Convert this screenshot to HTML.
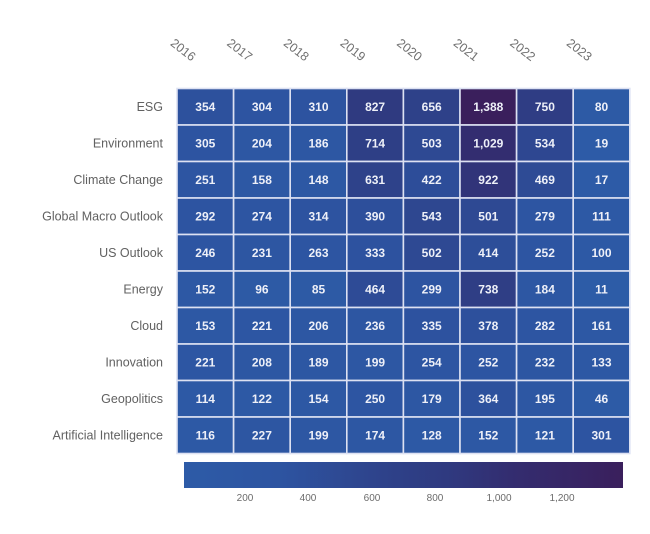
<!DOCTYPE html>
<html>
<head>
<meta charset="utf-8">
<style>
  html, body { margin:0; padding:0; background:#ffffff; }
  body { width:650px; height:534px; overflow:hidden; }
  svg { display:block; }
  .yr { font-family:"Liberation Sans", sans-serif; font-size:12.5px; fill:#707070; }
  .rl { font-family:"Liberation Sans", sans-serif; font-size:12.5px; fill:#616161; }
  .v  { font-family:"Liberation Sans", sans-serif; font-size:12px; font-weight:bold; fill:#eef0f8; }
  .cb { font-family:"Liberation Sans", sans-serif; font-size:10px; fill:#6b6b6b; }
</style>
</head>
<body>
<svg width="650" height="534" viewBox="0 0 650 534" xmlns="http://www.w3.org/2000/svg">
  <defs>
    <linearGradient id="g" x1="0" y1="0" x2="1" y2="0">
      <stop offset="0" stop-color="#2d5ba7"/>
      <stop offset="0.216" stop-color="#2d54a1"/>
      <stop offset="0.468" stop-color="#2e4189"/>
      <stop offset="0.598" stop-color="#2f3a80"/>
      <stop offset="0.742" stop-color="#332d70"/>
      <stop offset="1" stop-color="#3a1f5c"/>
    </linearGradient>
  </defs>

  <!-- Year labels -->
  <g class="yr" text-anchor="middle">
    <text x="183" y="54" transform="rotate(38 183 50)">2016</text>
    <text x="239.6" y="54" transform="rotate(38 239.6 50)">2017</text>
    <text x="296.2" y="54" transform="rotate(38 296.2 50)">2018</text>
    <text x="352.8" y="54" transform="rotate(38 352.8 50)">2019</text>
    <text x="409.4" y="54" transform="rotate(38 409.4 50)">2020</text>
    <text x="466" y="54" transform="rotate(38 466 50)">2021</text>
    <text x="522.6" y="54" transform="rotate(38 522.6 50)">2022</text>
    <text x="579.2" y="54" transform="rotate(38 579.2 50)">2023</text>
  </g>

  <!-- Row labels -->
  <g class="rl" text-anchor="end">
    <text x="163" y="111">ESG</text>
    <text x="163" y="147.5">Environment</text>
    <text x="163" y="184">Climate Change</text>
    <text x="163" y="220.5">Global Macro Outlook</text>
    <text x="163" y="257">US Outlook</text>
    <text x="163" y="293.5">Energy</text>
    <text x="163" y="330">Cloud</text>
    <text x="163" y="366.5">Innovation</text>
    <text x="163" y="403">Geopolitics</text>
    <text x="163" y="439.5">Artificial Intelligence</text>
  </g>

  <!-- Cells -->
  <g stroke="#dde1f2" stroke-width="1.6">
    <rect x="177" y="88.5" width="56.6" height="36.5" fill="#2d519d"/>
    <rect x="233.6" y="88.5" width="56.6" height="36.5" fill="#2d54a1"/>
    <rect x="290.2" y="88.5" width="56.6" height="36.5" fill="#2d53a0"/>
    <rect x="346.8" y="88.5" width="56.6" height="36.5" fill="#2f3a80"/>
    <rect x="403.4" y="88.5" width="56.6" height="36.5" fill="#2e4189"/>
    <rect x="460" y="88.5" width="56.6" height="36.5" fill="#3a1f5c"/>
    <rect x="516.6" y="88.5" width="56.6" height="36.5" fill="#2f3d84"/>
    <rect x="573.2" y="88.5" width="56.6" height="36.5" fill="#2d5aa5"/>

    <rect x="177" y="125" width="56.6" height="36.5" fill="#2d54a1"/>
    <rect x="233.6" y="125" width="56.6" height="36.5" fill="#2d57a3"/>
    <rect x="290.2" y="125" width="56.6" height="36.5" fill="#2d57a3"/>
    <rect x="346.8" y="125" width="56.6" height="36.5" fill="#2e3f86"/>
    <rect x="403.4" y="125" width="56.6" height="36.5" fill="#2e4993"/>
    <rect x="460" y="125" width="56.6" height="36.5" fill="#332d70"/>
    <rect x="516.6" y="125" width="56.6" height="36.5" fill="#2e4791"/>
    <rect x="573.2" y="125" width="56.6" height="36.5" fill="#2d5ba7"/>

    <rect x="177" y="161.5" width="56.6" height="36.5" fill="#2d55a2"/>
    <rect x="233.6" y="161.5" width="56.6" height="36.5" fill="#2d58a4"/>
    <rect x="290.2" y="161.5" width="56.6" height="36.5" fill="#2d58a4"/>
    <rect x="346.8" y="161.5" width="56.6" height="36.5" fill="#2e428a"/>
    <rect x="403.4" y="161.5" width="56.6" height="36.5" fill="#2d4d99"/>
    <rect x="460" y="161.5" width="56.6" height="36.5" fill="#313479"/>
    <rect x="516.6" y="161.5" width="56.6" height="36.5" fill="#2e4b95"/>
    <rect x="573.2" y="161.5" width="56.6" height="36.5" fill="#2d5ba7"/>

    <rect x="177" y="198" width="56.6" height="36.5" fill="#2d54a1"/>
    <rect x="233.6" y="198" width="56.6" height="36.5" fill="#2d55a2"/>
    <rect x="290.2" y="198" width="56.6" height="36.5" fill="#2d53a0"/>
    <rect x="346.8" y="198" width="56.6" height="36.5" fill="#2d4f9b"/>
    <rect x="403.4" y="198" width="56.6" height="36.5" fill="#2e4790"/>
    <rect x="460" y="198" width="56.6" height="36.5" fill="#2e4993"/>
    <rect x="516.6" y="198" width="56.6" height="36.5" fill="#2d55a2"/>
    <rect x="573.2" y="198" width="56.6" height="36.5" fill="#2d59a5"/>

    <rect x="177" y="234.5" width="56.6" height="36.5" fill="#2d55a2"/>
    <rect x="233.6" y="234.5" width="56.6" height="36.5" fill="#2d56a2"/>
    <rect x="290.2" y="234.5" width="56.6" height="36.5" fill="#2d55a2"/>
    <rect x="346.8" y="234.5" width="56.6" height="36.5" fill="#2d529f"/>
    <rect x="403.4" y="234.5" width="56.6" height="36.5" fill="#2e4993"/>
    <rect x="460" y="234.5" width="56.6" height="36.5" fill="#2d4e99"/>
    <rect x="516.6" y="234.5" width="56.6" height="36.5" fill="#2d55a2"/>
    <rect x="573.2" y="234.5" width="56.6" height="36.5" fill="#2d59a5"/>

    <rect x="177" y="271" width="56.6" height="36.5" fill="#2d58a4"/>
    <rect x="233.6" y="271" width="56.6" height="36.5" fill="#2d5aa5"/>
    <rect x="290.2" y="271" width="56.6" height="36.5" fill="#2d5aa5"/>
    <rect x="346.8" y="271" width="56.6" height="36.5" fill="#2e4b96"/>
    <rect x="403.4" y="271" width="56.6" height="36.5" fill="#2d54a1"/>
    <rect x="460" y="271" width="56.6" height="36.5" fill="#2f3e85"/>
    <rect x="516.6" y="271" width="56.6" height="36.5" fill="#2d57a3"/>
    <rect x="573.2" y="271" width="56.6" height="36.5" fill="#2d5ca7"/>

    <rect x="177" y="307.5" width="56.6" height="36.5" fill="#2d58a4"/>
    <rect x="233.6" y="307.5" width="56.6" height="36.5" fill="#2d56a3"/>
    <rect x="290.2" y="307.5" width="56.6" height="36.5" fill="#2d57a3"/>
    <rect x="346.8" y="307.5" width="56.6" height="36.5" fill="#2d56a2"/>
    <rect x="403.4" y="307.5" width="56.6" height="36.5" fill="#2d529f"/>
    <rect x="460" y="307.5" width="56.6" height="36.5" fill="#2d509c"/>
    <rect x="516.6" y="307.5" width="56.6" height="36.5" fill="#2d55a2"/>
    <rect x="573.2" y="307.5" width="56.6" height="36.5" fill="#2d58a4"/>

    <rect x="177" y="344" width="56.6" height="36.5" fill="#2d56a3"/>
    <rect x="233.6" y="344" width="56.6" height="36.5" fill="#2d57a3"/>
    <rect x="290.2" y="344" width="56.6" height="36.5" fill="#2d57a3"/>
    <rect x="346.8" y="344" width="56.6" height="36.5" fill="#2d57a3"/>
    <rect x="403.4" y="344" width="56.6" height="36.5" fill="#2d55a2"/>
    <rect x="460" y="344" width="56.6" height="36.5" fill="#2d55a2"/>
    <rect x="516.6" y="344" width="56.6" height="36.5" fill="#2d56a2"/>
    <rect x="573.2" y="344" width="56.6" height="36.5" fill="#2d58a4"/>

    <rect x="177" y="380.5" width="56.6" height="36.5" fill="#2d59a5"/>
    <rect x="233.6" y="380.5" width="56.6" height="36.5" fill="#2d59a5"/>
    <rect x="290.2" y="380.5" width="56.6" height="36.5" fill="#2d58a4"/>
    <rect x="346.8" y="380.5" width="56.6" height="36.5" fill="#2d55a2"/>
    <rect x="403.4" y="380.5" width="56.6" height="36.5" fill="#2d57a3"/>
    <rect x="460" y="380.5" width="56.6" height="36.5" fill="#2d519d"/>
    <rect x="516.6" y="380.5" width="56.6" height="36.5" fill="#2d57a3"/>
    <rect x="573.2" y="380.5" width="56.6" height="36.5" fill="#2d5ba6"/>

    <rect x="177" y="417" width="56.6" height="36.5" fill="#2d59a5"/>
    <rect x="233.6" y="417" width="56.6" height="36.5" fill="#2d56a2"/>
    <rect x="290.2" y="417" width="56.6" height="36.5" fill="#2d57a3"/>
    <rect x="346.8" y="417" width="56.6" height="36.5" fill="#2d57a3"/>
    <rect x="403.4" y="417" width="56.6" height="36.5" fill="#2d59a5"/>
    <rect x="460" y="417" width="56.6" height="36.5" fill="#2d58a4"/>
    <rect x="516.6" y="417" width="56.6" height="36.5" fill="#2d59a5"/>
    <rect x="573.2" y="417" width="56.6" height="36.5" fill="#2d54a1"/>
  </g>

  <!-- Cell values -->
  <g class="v" text-anchor="middle">
    <text x="205.3" y="111">354</text><text x="261.9" y="111">304</text><text x="318.5" y="111">310</text><text x="375.1" y="111">827</text><text x="431.7" y="111">656</text><text x="488.3" y="111">1,388</text><text x="544.9" y="111">750</text><text x="601.5" y="111">80</text>
    <text x="205.3" y="147.5">305</text><text x="261.9" y="147.5">204</text><text x="318.5" y="147.5">186</text><text x="375.1" y="147.5">714</text><text x="431.7" y="147.5">503</text><text x="488.3" y="147.5">1,029</text><text x="544.9" y="147.5">534</text><text x="601.5" y="147.5">19</text>
    <text x="205.3" y="184">251</text><text x="261.9" y="184">158</text><text x="318.5" y="184">148</text><text x="375.1" y="184">631</text><text x="431.7" y="184">422</text><text x="488.3" y="184">922</text><text x="544.9" y="184">469</text><text x="601.5" y="184">17</text>
    <text x="205.3" y="220.5">292</text><text x="261.9" y="220.5">274</text><text x="318.5" y="220.5">314</text><text x="375.1" y="220.5">390</text><text x="431.7" y="220.5">543</text><text x="488.3" y="220.5">501</text><text x="544.9" y="220.5">279</text><text x="601.5" y="220.5">111</text>
    <text x="205.3" y="257">246</text><text x="261.9" y="257">231</text><text x="318.5" y="257">263</text><text x="375.1" y="257">333</text><text x="431.7" y="257">502</text><text x="488.3" y="257">414</text><text x="544.9" y="257">252</text><text x="601.5" y="257">100</text>
    <text x="205.3" y="293.5">152</text><text x="261.9" y="293.5">96</text><text x="318.5" y="293.5">85</text><text x="375.1" y="293.5">464</text><text x="431.7" y="293.5">299</text><text x="488.3" y="293.5">738</text><text x="544.9" y="293.5">184</text><text x="601.5" y="293.5">11</text>
    <text x="205.3" y="330">153</text><text x="261.9" y="330">221</text><text x="318.5" y="330">206</text><text x="375.1" y="330">236</text><text x="431.7" y="330">335</text><text x="488.3" y="330">378</text><text x="544.9" y="330">282</text><text x="601.5" y="330">161</text>
    <text x="205.3" y="366.5">221</text><text x="261.9" y="366.5">208</text><text x="318.5" y="366.5">189</text><text x="375.1" y="366.5">199</text><text x="431.7" y="366.5">254</text><text x="488.3" y="366.5">252</text><text x="544.9" y="366.5">232</text><text x="601.5" y="366.5">133</text>
    <text x="205.3" y="403">114</text><text x="261.9" y="403">122</text><text x="318.5" y="403">154</text><text x="375.1" y="403">250</text><text x="431.7" y="403">179</text><text x="488.3" y="403">364</text><text x="544.9" y="403">195</text><text x="601.5" y="403">46</text>
    <text x="205.3" y="439.5">116</text><text x="261.9" y="439.5">227</text><text x="318.5" y="439.5">199</text><text x="375.1" y="439.5">174</text><text x="431.7" y="439.5">128</text><text x="488.3" y="439.5">152</text><text x="544.9" y="439.5">121</text><text x="601.5" y="439.5">301</text>
  </g>

  <!-- Colorbar -->
  <rect x="184" y="462" width="439" height="26" fill="url(#g)"/>
  <g class="cb" text-anchor="middle">
    <text x="245" y="501">200</text>
    <text x="308" y="501">400</text>
    <text x="372" y="501">600</text>
    <text x="435" y="501">800</text>
    <text x="499" y="501">1,000</text>
    <text x="562" y="501">1,200</text>
  </g>
</svg>
</body>
</html>
